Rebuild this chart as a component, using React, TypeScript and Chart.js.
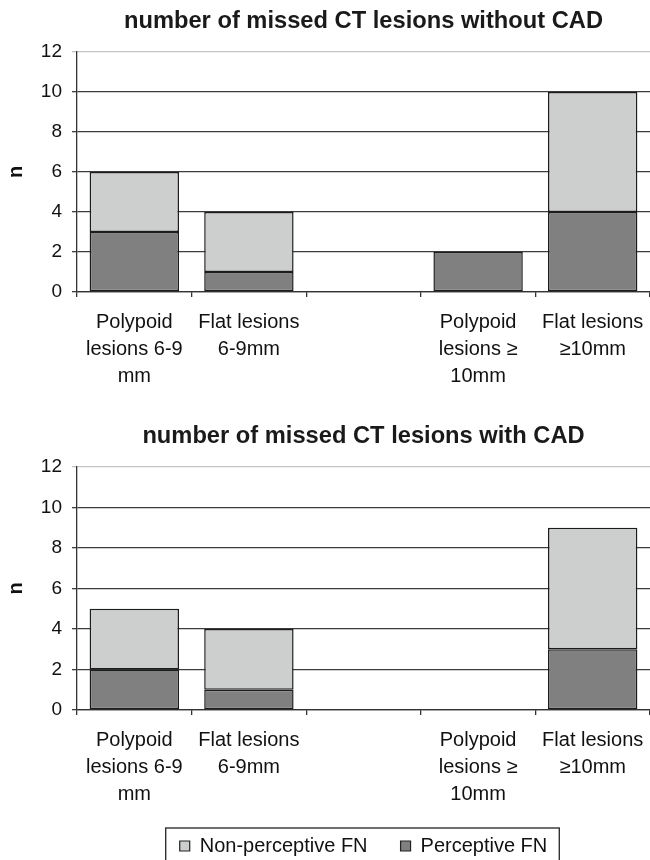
import React, { useEffect, useRef } from "react";
import { Chart, registerables } from "chart.js";

Chart.register(...registerables);

const categories: string[][] = [
  ["Polypoid", "lesions 6-9", "mm"],
  ["Flat lesions", "6-9mm"],
  [""],
  ["Polypoid", "lesions ≥", "10mm"],
  ["Flat lesions", "≥10mm"],
];
const seriesNames = ["Perceptive FN", "Non-perceptive FN"];
const perceptiveWithout = [3, 1, 0, 2, 4];
const nonPerceptiveWithout = [3, 3, 0, 0, 6];
const perceptiveWith = [2, 1, 0, 0, 3];
const nonPerceptiveWith = [3, 3, 0, 0, 6];
const yMin = 0;
const yMax = 12;
const yStep = 2;
const titles = [
  "number of missed CT lesions without CAD",
  "number of missed CT lesions with CAD",
];
const yTitle = "n";

const FONT = "'Liberation Sans', Arial, Helvetica, sans-serif";
const DARK = "#808080";
const LIGHT = "#cdcfce";
const EDGE = "#1c1c1c";

const legendBoxPlugin = {
  id: "legendBox",
  afterDraw(chart: any) {
    const lg = chart.legend;
    if (!lg || !lg.options.display || !lg.legendHitBoxes || !lg.legendHitBoxes.length) return;
    const hb = lg.legendHitBoxes;
    const first = hb[0];
    const last = hb[hb.length - 1];
    const mid = first.top + first.height / 2;
    const left = first.left - 14;
    const right = last.left + last.width + 12;
    const ctx = chart.ctx;
    ctx.save();
    ctx.strokeStyle = "#222";
    ctx.lineWidth = 1.3;
    ctx.strokeRect(left, mid - 18, right - left, 40);
    ctx.restore();
  },
};

function makeConfig(
  title: string,
  perceptive: number[],
  nonPerceptive: number[],
  showLegend: boolean,
  xHeight: number
): any {
  return {
    type: "bar",
    data: {
      labels: categories,
      datasets: [
        {
          label: seriesNames[0],
          data: perceptive,
          backgroundColor: DARK,
          borderColor: EDGE,
          borderWidth: (c: any) => (c.raw ? 1.5 : 0),
          borderSkipped: false,
          barPercentage: 0.78,
          categoryPercentage: 1,
        },
        {
          label: seriesNames[1],
          data: nonPerceptive,
          backgroundColor: LIGHT,
          borderColor: EDGE,
          borderWidth: (c: any) => (c.raw ? 1.5 : 0),
          borderSkipped: false,
          barPercentage: 0.78,
          categoryPercentage: 1,
        },
      ],
    },
    options: {
      responsive: false,
      animation: false,
      devicePixelRatio: 1,
      layout: { padding: { left: 0, right: 0, top: 0, bottom: 0 } },
      plugins: {
        tooltip: { enabled: false },
        title: {
          display: true,
          text: title,
          fullSize: false,
          color: "#1a1a1a",
          font: { family: FONT, size: 23.7, weight: "bold", lineHeight: 1.2 },
          padding: { top: 7.5, bottom: 16 },
        },
        legend: {
          display: showLegend,
          position: "bottom",
          fullSize: false,
          reverse: true,
          labels: {
            boxWidth: 10,
            boxHeight: 10,
            padding: 33,
            color: "#111",
            font: { family: FONT, size: 20 },
            generateLabels: (chart: any) => {
              const items = (Chart as any).defaults.plugins.legend.labels.generateLabels(chart);
              return items.map((it: any) => ({ ...it, lineWidth: 1.2, strokeStyle: "#222" }));
            },
          },
        },
      },
      scales: {
        x: {
          stacked: true,
          afterFit: (s: any) => {
            s.height = xHeight;
            s.paddingLeft = 0;
            s.paddingRight = 0;
          },
          grid: {
            offset: true,
            drawOnChartArea: false,
            drawTicks: true,
            tickLength: 5,
            color: "#333",
            lineWidth: 1.3,
          },
          border: { display: true, color: "#333", width: 1.3 },
          ticks: {
            color: "#111",
            padding: 12,
            maxRotation: 0,
            autoSkip: false,
            font: { family: FONT, size: 20, lineHeight: 1.35 },
          },
        },
        y: {
          stacked: true,
          min: yMin,
          max: yMax,
          afterFit: (s: any) => {
            s.width = 77;
          },
          ticks: {
            stepSize: yStep,
            color: "#111",
            padding: 10,
            font: { family: FONT, size: 19 },
          },
          grid: {
            color: (c: any) => (c.tick && c.tick.value === yMax ? "#c4c4c4" : "#3c3c3c"),
            lineWidth: 1.3,
            tickLength: 5,
            drawTicks: true,
          },
          border: { display: true, color: "#333", width: 1.3 },
          title: {
            display: true,
            text: yTitle,
            color: "#111",
            font: { family: FONT, size: 20, weight: "bold", lineHeight: 1.2 },
            padding: { top: 4, bottom: 0 },
          },
        },
      },
    },
    plugins: showLegend ? [legendBoxPlugin] : [],
  };
}

export default function App() {
  const topRef = useRef<HTMLCanvasElement | null>(null);
  const botRef = useRef<HTMLCanvasElement | null>(null);

  useEffect(() => {
    document.body.style.margin = "0";
    Chart.defaults.font.family = FONT;
    const c1 = new Chart(
      topRef.current as HTMLCanvasElement,
      makeConfig(titles[0], perceptiveWithout, nonPerceptiveWithout, false, 123)
    );
    const c2 = new Chart(
      botRef.current as HTMLCanvasElement,
      makeConfig(titles[1], perceptiveWith, nonPerceptiveWith, true, 93)
    );
    return () => {
      c1.destroy();
      c2.destroy();
    };
  }, []);

  return (
    <div style={{ position: "relative", width: 650, height: 860, overflow: "hidden", background: "#fff" }}>
      <canvas ref={topRef} width={650} height={415} style={{ position: "absolute", left: 0, top: 0, width: 650, height: 415 }} />
      <canvas ref={botRef} width={650} height={451} style={{ position: "absolute", left: 0, top: 415, width: 650, height: 451 }} />
    </div>
  );
}
